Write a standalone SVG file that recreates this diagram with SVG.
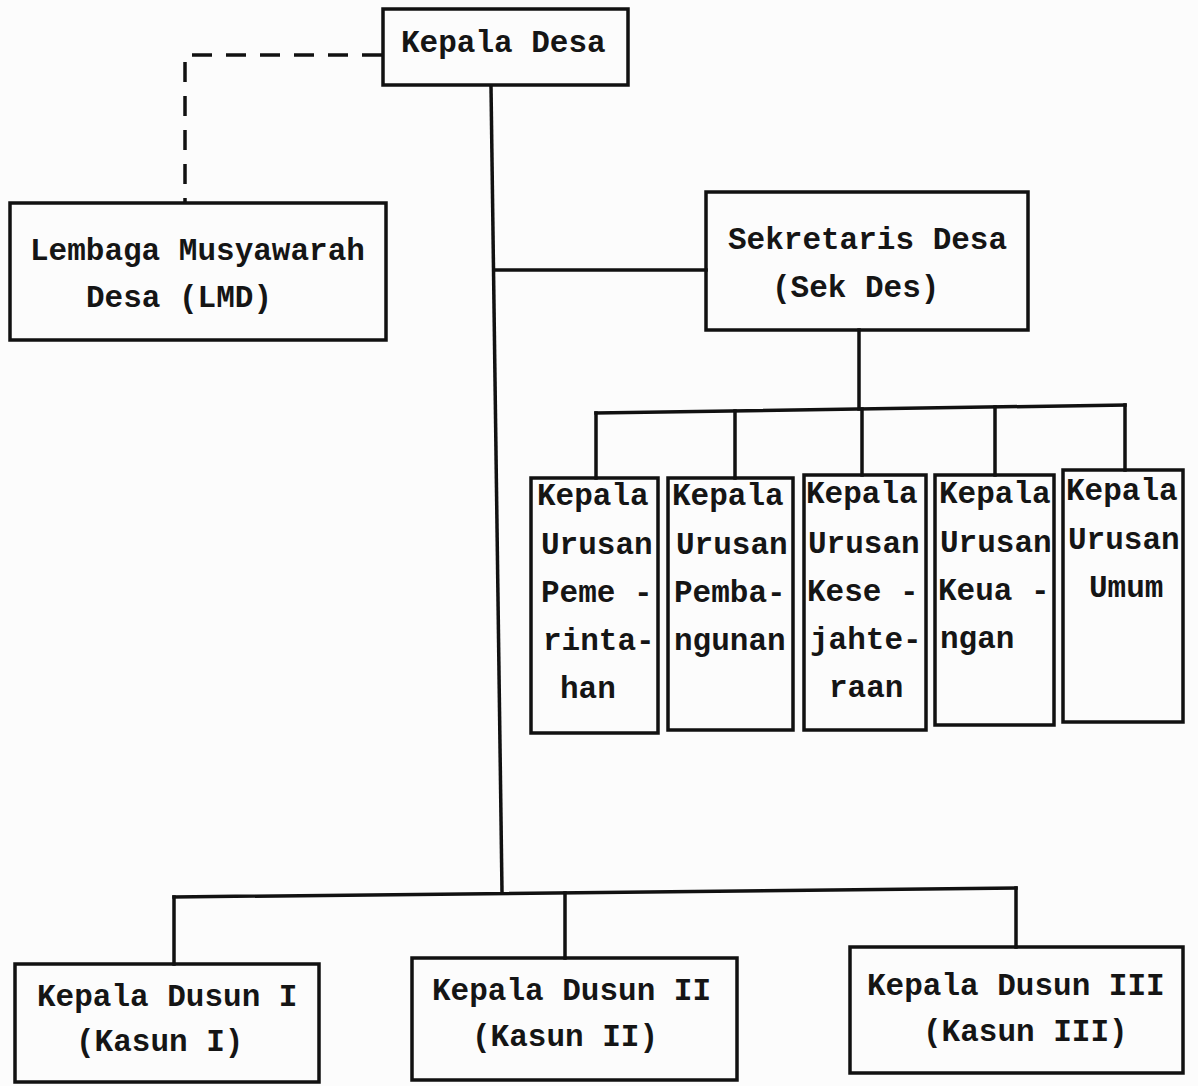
<svg xmlns="http://www.w3.org/2000/svg" width="1198" height="1086" viewBox="0 0 1198 1086">
<style>
.bx{fill:none;stroke:#111;stroke-width:3.5}
.ln{fill:none;stroke:#111;stroke-width:3.5;stroke-linecap:square}
.dash{fill:none;stroke:#111;stroke-width:3.5;stroke-dasharray:20 14}
text{font-family:"Liberation Mono","Courier New",monospace;font-weight:bold;font-size:31px;fill:#151515}
</style>
<rect width="1198" height="1086" fill="#fcfcfc"/>
<g id="connectors">
<path class="dash" d="M382,55 H185 V203"/>
<path class="ln" d="M491,86 L502,892"/>
<path class="ln" d="M494,270 H706"/>
<path class="ln" d="M859,330 V409"/>
<path class="ln" d="M596,413 L1125,405"/>
<path class="ln" d="M596,413 V478"/>
<path class="ln" d="M735,411 V478"/>
<path class="ln" d="M862,409 V475"/>
<path class="ln" d="M995,407 V475"/>
<path class="ln" d="M1125,405 V470"/>
<path class="ln" d="M174,897 L1016,888"/>
<path class="ln" d="M174,897 V964"/>
<path class="ln" d="M565,893 V958"/>
<path class="ln" d="M1016,888 V947"/>
</g>
<g id="kepala-desa">
<rect class="bx" x="383" y="9" width="245" height="76"/>
<text x="401" y="52">Kepala Desa</text>
</g>
<g id="lmd">
<rect class="bx" x="10" y="203" width="376" height="137"/>
<text x="30" y="260">Lembaga Musyawarah</text>
<text x="86" y="307">Desa (LMD)</text>
</g>
<g id="sekdes">
<rect class="bx" x="706" y="192" width="322" height="138"/>
<text x="728" y="249">Sekretaris Desa</text>
<text x="772" y="297">(Sek Des)</text>
</g>
<g id="kaur-pemerintahan">
<rect class="bx" x="531" y="478" width="127" height="255"/>
<text x="537" y="505">Kepala</text>
<text x="541" y="554">Urusan</text>
<text x="541" y="602">Peme -</text>
<text x="543" y="650">rinta-</text>
<text x="560" y="698">han</text>
</g>
<g id="kaur-pembangunan">
<rect class="bx" x="668" y="478" width="125" height="252"/>
<text x="672" y="505">Kepala</text>
<text x="676" y="554">Urusan</text>
<text x="674" y="602">Pemba-</text>
<text x="674" y="650">ngunan</text>
</g>
<g id="kaur-kesejahteraan">
<rect class="bx" x="804" y="475" width="122" height="255"/>
<text x="806" y="503">Kepala</text>
<text x="808" y="553">Urusan</text>
<text x="807" y="601">Kese -</text>
<text x="810" y="649">jahte-</text>
<text x="829" y="697">raan</text>
</g>
<g id="kaur-keuangan">
<rect class="bx" x="935" y="475" width="119" height="250"/>
<text x="939" y="503">Kepala</text>
<text x="940" y="552">Urusan</text>
<text x="938" y="600">Keua -</text>
<text x="940" y="648">ngan</text>
</g>
<g id="kaur-umum">
<rect class="bx" x="1063" y="470" width="120" height="252"/>
<text x="1066" y="500">Kepala</text>
<text x="1068" y="549">Urusan</text>
<text x="1089" y="597">Umum</text>
</g>
<g id="kasun-1">
<rect class="bx" x="15" y="964" width="304" height="118"/>
<text x="37" y="1006">Kepala Dusun I</text>
<text x="76" y="1051">(Kasun I)</text>
</g>
<g id="kasun-2">
<rect class="bx" x="412" y="958" width="325" height="122"/>
<text x="432" y="1000">Kepala Dusun II</text>
<text x="472" y="1046">(Kasun II)</text>
</g>
<g id="kasun-3">
<rect class="bx" x="850" y="947" width="333" height="126"/>
<text x="867" y="995">Kepala Dusun III</text>
<text x="923" y="1041">(Kasun III)</text>
</g>
</svg>
